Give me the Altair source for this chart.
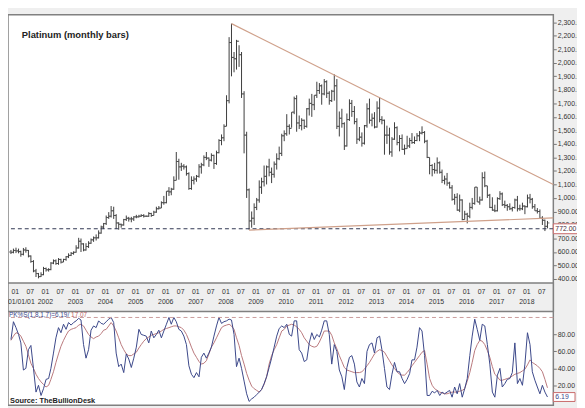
import altair as alt
import pandas as pd

# ---------------- data (monthly, Nov 2000 .. Sep 2018) ----------------
opens = [600, 598,
    612, 608, 603, 583, 615, 612, 570, 530, 460, 440, 418, 432,
    478, 468, 470, 518, 535, 515, 545, 525, 545, 565, 575, 590,
    598, 630, 680, 660, 615, 640, 665, 690, 705, 705, 740, 785,
    810, 855, 865, 905, 870, 815, 805, 800, 840, 850, 845, 845,
    860, 860, 865, 870, 865, 865, 885, 870, 895, 920, 925, 965,
    965, 1050, 1045, 1065, 1130, 1270, 1230, 1235, 1230, 1180, 1070, 1130,
    1140, 1160, 1230, 1245, 1300, 1295, 1280, 1315, 1255, 1335, 1425, 1445,
    1530, 1720, 2150, 2040, 2030, 2160, 2060, 1770, 1465, 1060, 830, 850,
    930, 985, 1080, 1120, 1160, 1230, 1190, 1175, 1250, 1290, 1330, 1460,
    1475, 1530, 1515, 1635, 1735, 1555, 1535, 1575, 1530, 1660, 1700, 1690,
    1760, 1795, 1830, 1770, 1860, 1775, 1720, 1790, 1830, 1530, 1590, 1550,
    1385, 1580, 1700, 1640, 1565, 1435, 1450, 1405, 1535, 1660, 1575, 1590,
    1525, 1665, 1580, 1575, 1465, 1465, 1340, 1435, 1520, 1410, 1440, 1360,
    1365, 1385, 1425, 1410, 1425, 1460, 1480, 1485, 1420, 1300, 1240, 1210,
    1205, 1260, 1190, 1130, 1140, 1110, 1075, 990, 1005, 910, 985, 840,
    880, 865, 930, 960, 1080, 970, 985, 1150, 1090, 1020, 930, 910,
    905, 995, 1030, 950, 945, 935, 920, 930, 985, 920, 920, 940,
    935, 1000, 990, 935, 905, 900, 850, 835, 790]
highs = [615, 625,
    632, 625, 610, 630, 635, 615, 575, 540, 475, 445, 450, 490,
    485, 480, 525, 545, 545, 555, 550, 550, 570, 590, 600, 605,
    650, 705, 700, 665, 665, 680, 700, 715, 730, 760, 795, 815,
    870, 895, 940, 935, 880, 820, 810, 845, 870, 860, 860, 865,
    875, 875, 880, 880, 870, 895, 890, 905, 935, 940, 975, 1015,
    1050, 1080, 1075, 1160, 1340, 1290, 1260, 1250, 1240, 1190, 1160, 1160,
    1170, 1250, 1260, 1315, 1340, 1300, 1330, 1320, 1350, 1435, 1470, 1545,
    1760, 2190, 2290, 2080, 2170, 2130, 2080, 1790, 1490, 1070, 900, 960,
    1000, 1130, 1150, 1240, 1240, 1290, 1225, 1270, 1330, 1380, 1475, 1500,
    1620, 1545, 1635, 1750, 1760, 1610, 1590, 1580, 1665, 1735, 1770, 1760,
    1860, 1850, 1840, 1880, 1870, 1790, 1800, 1915, 1880, 1640, 1660, 1560,
    1625, 1730, 1725, 1680, 1590, 1525, 1485, 1540, 1700, 1735, 1625, 1635,
    1715, 1745, 1605, 1580, 1535, 1520, 1450, 1560, 1530, 1465, 1470, 1395,
    1460, 1445, 1480, 1455, 1480, 1495, 1530, 1495, 1430, 1300, 1250, 1260,
    1300, 1270, 1210, 1165, 1185, 1120, 1095, 1030, 1035, 1025, 990, 905,
    890, 965, 1000, 1080, 1080, 1010, 1190, 1195, 1090, 1030, 1005, 950,
    1005, 1050, 1040, 980, 955, 960, 935, 995, 1015, 950, 965, 945,
    1025, 1030, 1000, 955, 925, 915, 865, 840, 830]
lows = [585, 590,
    592, 590, 565, 575, 595, 560, 520, 450, 415, 405, 415, 428,
    455, 455, 465, 510, 505, 505, 515, 525, 535, 555, 570, 580,
    595, 625, 600, 605, 610, 630, 660, 675, 685, 700, 735, 770,
    800, 845, 855, 845, 770, 765, 780, 795, 830, 825, 820, 830,
    850, 855, 860, 855, 860, 860, 860, 870, 890, 915, 925, 950,
    960, 1015, 1020, 1060, 1130, 1135, 1200, 1210, 1165, 1060, 1060, 1100,
    1120, 1150, 1180, 1235, 1280, 1230, 1270, 1215, 1245, 1330, 1390, 1420,
    1530, 1700, 1900, 1930, 1950, 1970, 1740, 1330, 1000, 765, 780, 800,
    910, 965, 1030, 1085, 1100, 1160, 1110, 1150, 1210, 1280, 1310, 1420,
    1460, 1470, 1520, 1620, 1490, 1510, 1500, 1510, 1520, 1610, 1600, 1650,
    1740, 1770, 1690, 1760, 1740, 1690, 1710, 1720, 1510, 1455, 1520, 1355,
    1380, 1570, 1600, 1545, 1400, 1420, 1380, 1395, 1520, 1550, 1530, 1515,
    1520, 1560, 1545, 1320, 1400, 1320, 1305, 1430, 1390, 1345, 1355, 1320,
    1365, 1370, 1400, 1400, 1420, 1420, 1470, 1405, 1295, 1175, 1160, 1180,
    1180, 1180, 1110, 1100, 1090, 1070, 980, 950, 905, 895, 835, 840,
    812, 850, 915, 950, 970, 950, 980, 1080, 1000, 925, 905, 895,
    900, 985, 940, 925, 905, 910, 900, 920, 900, 905, 910, 880,
    930, 960, 920, 905, 885, 850, 800, 755, 775]
closes = [598, 612,
    608, 603, 583, 615, 612, 570, 530, 460, 440, 418, 432, 478,
    468, 470, 518, 535, 515, 545, 525, 545, 565, 575, 590, 598,
    630, 680, 660, 615, 640, 665, 690, 705, 705, 740, 785, 810,
    855, 865, 905, 870, 815, 805, 800, 840, 850, 845, 845, 860,
    860, 865, 870, 865, 865, 885, 870, 895, 920, 925, 965, 965,
    1050, 1045, 1065, 1130, 1270, 1230, 1235, 1230, 1180, 1070, 1130, 1140,
    1160, 1230, 1245, 1300, 1295, 1280, 1315, 1255, 1335, 1425, 1445, 1530,
    1720, 2150, 2040, 2030, 2160, 2060, 1770, 1465, 1060, 830, 850, 930,
    985, 1080, 1120, 1160, 1230, 1190, 1175, 1250, 1290, 1330, 1460, 1475,
    1530, 1515, 1635, 1735, 1555, 1535, 1575, 1530, 1660, 1700, 1690, 1760,
    1795, 1830, 1770, 1860, 1775, 1720, 1790, 1830, 1530, 1590, 1550, 1385,
    1580, 1700, 1640, 1565, 1435, 1450, 1405, 1535, 1660, 1575, 1590, 1525,
    1665, 1580, 1575, 1465, 1465, 1340, 1435, 1520, 1410, 1440, 1360, 1365,
    1385, 1425, 1410, 1425, 1460, 1480, 1485, 1420, 1300, 1240, 1210, 1205,
    1260, 1190, 1130, 1140, 1110, 1075, 990, 1005, 910, 985, 840, 880,
    865, 930, 960, 1080, 970, 985, 1150, 1090, 1020, 930, 910, 905,
    995, 1030, 950, 945, 935, 920, 930, 985, 920, 920, 940, 935,
    1000, 990, 935, 905, 900, 850, 835, 790, 815]

stoch_k = [74, 95,
    88, 80, 70, 38, 40, 62, 67, 40, 12, 20, 8, 16,
    27, 28, 40, 58, 76, 88, 82, 92, 86, 94, 91, 94,
    96, 99, 97, 68, 52, 62, 85, 90, 88, 96, 93, 92,
    95, 98, 100, 94, 58, 42, 45, 35, 57, 51, 41, 52,
    65, 86, 80, 79, 78, 70, 84, 76, 80, 85, 76, 84,
    92, 100, 92, 100, 95, 86, 84, 78, 68, 43, 33, 29,
    35, 30, 53, 58, 52, 58, 65, 78, 90, 100, 93, 95,
    96, 98, 97, 80, 42, 52, 40, 25, 10, 1, 4, 6,
    9, 12, 15, 22, 30, 41, 52, 65, 78, 87, 90, 88,
    92, 80, 78, 96, 96, 62, 58, 48, 50, 70, 82, 74,
    80, 77, 85, 96, 96, 80, 45, 68, 60, 38, 30, 15,
    41, 53, 55, 45, 24, 18, 28, 22, 60, 68, 70, 58,
    76, 78, 62, 40, 18, 15, 33, 47, 36, 36, 28, 22,
    27, 34, 50, 50, 65, 88, 84, 55, 8, 8, 13, 11,
    14, 8, 12, 10, 12, 14, 6, 18, 10, 22, 6, 16,
    28, 55, 78, 98, 86, 73, 92, 90, 68, 45, 12, 6,
    32, 40, 18, 22, 27, 28, 35, 70, 22, 28, 20, 45,
    82, 68, 36, 26, 18, 10, 20, 12, 6.19]
stoch_d = [73, 78,
    82, 81, 78, 72, 66, 56, 46, 40, 33, 28, 24, 21,
    18, 20, 27, 36, 47, 57, 66, 73, 79, 84, 86, 87,
    88, 91, 92, 90, 85, 80, 77, 75, 77, 78, 81, 85,
    86, 90, 94, 90, 84, 76, 68, 62, 57, 55, 55, 57,
    59, 64, 68, 72, 75, 77, 79, 80, 81, 82, 84, 86,
    87, 88, 89, 90, 90, 89, 88, 85, 80, 73, 65, 58,
    53, 48, 45, 46, 49, 57, 65, 70, 76, 82, 88, 90,
    91, 92, 90, 86, 76, 67, 55, 45, 34, 26, 19, 16,
    14, 12, 15, 21, 30, 45, 55, 62, 68, 76, 84, 86,
    90, 91, 92, 91, 89, 86, 82, 76, 72, 68, 66, 65,
    66, 71, 77, 84, 84, 84, 79, 70, 63, 55, 48, 41,
    38, 37, 36, 35, 35, 35, 36, 39, 43, 47, 52, 57,
    60, 62, 61, 59, 54, 49, 44, 40, 36, 33, 32, 32,
    35, 39, 43, 47, 51, 55, 59, 61, 45, 28, 20, 16,
    14, 12, 11, 10, 10, 11, 12, 12, 12, 13, 14, 16,
    25, 35, 47, 61, 68, 73, 72, 68, 61, 53, 42, 33,
    30, 26, 26, 27, 28, 29, 31, 33, 34, 35, 37, 39,
    44, 50, 47, 45, 43, 40, 36, 27, 17.07]

trend_ids = ["upper", "upper", "lower", "lower"]
trend_dates = ["2008-03-15", "2018-11-25", "2008-10-15", "2018-11-25"]
trend_values = [2290, 1100, 762, 852]

price_ticks = list(range(400, 2301, 100))
stoch_ticks = [20, 40, 60, 80]
support_level = 772

# ---------------- tables ----------------
dates = (pd.date_range("2000-11-01", periods=len(closes), freq="MS")
         + pd.Timedelta(days=14)).strftime("%Y-%m-%d")
price = pd.DataFrame({"date": dates, "open": opens, "high": highs,
                      "low": lows, "close": closes})
stoch = pd.DataFrame({"date": dates, "k": stoch_k, "d": stoch_d})
trend = pd.DataFrame({"id": trend_ids, "date": trend_dates, "v": trend_values})

FONT = "Liberation Sans"
W, H = 553, 396          # whole plotting area (both panels)
UP_H = 272               # upper panel height
LOW_TOP, LOW_0, LOW_100 = 301, 393, 307   # lower panel pixel positions

x_start = alt.DateTime(year=2000, month=10, date=10, utc=True)
x_end = alt.DateTime(year=2018, month=11, date=25, utc=True)
x_scale = alt.Scale(type="utc", domain=[x_start, x_end])
tick_dates = [alt.DateTime(year=y, month=m, date=1, utc=True)
              for y in range(2001, 2019) for m in (1, 7)]

P_LO, P_HI = 371, 2356
P_GAP = P_LO - (LOW_TOP - UP_H) * (P_HI - P_LO) / UP_H   # price value at lower panel top
p_scale = alt.Scale(domain=[P_LO, P_HI], range=[UP_H, 0], nice=False, zero=False)
s_scale = alt.Scale(domain=[0, 100], range=[LOW_0, LOW_100], nice=False, zero=False)

x_axis = alt.Axis(values=tick_dates, labelExpr=(
    "utcmonth(datum.value) == 0 ? ['01', utcyear(datum.value) == 2001 ? '' : '' + utcyear(datum.value)]"
    " : ['07', '']"), labelFontSize=7, labelFont=FONT, labelColor="#333333",
    labelLineHeight=10, labelPadding=5, labelOverlap=False, labelBound=False,
    ticks=False, domain=False, grid=False, title=None,
    offset=-(H - UP_H), zindex=2, tickCount=len(tick_dates))

y_axis = alt.Axis(orient="right", values=price_ticks, format=",.2f",
                  labelFontSize=7, labelFont=FONT, labelColor="#333333",
                  tickSize=3, tickColor="#777777", domain=False,
                  labelPadding=1, labelOverlap=False, grid=False, title=None,
                  tickCount=len(price_ticks))
s_axis = alt.Axis(orient="right", values=stoch_ticks, format=".2f",
                  labelFontSize=7, labelFont=FONT, labelColor="#333333",
                  tickSize=3, tickColor="#777777", domain=False,
                  labelPadding=1, labelOverlap=False, grid=False, title=None)

BAR = "#3c3c3c"


def X(field):
    return alt.X(field, type="temporal", scale=x_scale, axis=x_axis)


def XD(dt):
    return alt.datum(dt, type="temporal", scale=x_scale, axis=x_axis)


def PY(field):
    return alt.Y(field, type="quantitative", scale=p_scale, axis=y_axis)


def PYD(v):
    return alt.datum(v, type="quantitative", scale=p_scale, axis=y_axis)


def SY(field):
    return alt.Y(field, type="quantitative", scale=s_scale, axis=s_axis)


def SYD(v):
    return alt.datum(v, type="quantitative", scale=s_scale, axis=s_axis)


# ---------------- upper (price) group ----------------
band = alt.Chart().mark_rect(fill="#efefef", stroke="#808080",
                             strokeWidth=1.5).encode(
    x=XD(x_start), x2=alt.datum(x_end), y=PYD(P_LO), y2=alt.datum(P_GAP))
hl = alt.Chart(price).mark_rule(color=BAR, strokeWidth=1).encode(
    x=X("date"), y=PY("low"), y2="high:Q")
op = alt.Chart(price).mark_tick(color=BAR, orient="horizontal", size=2,
                                thickness=1, xOffset=-1).encode(
    x=X("date"), y=PY("open"))
cl = alt.Chart(price).mark_tick(color=BAR, orient="horizontal", size=2,
                                thickness=1, xOffset=1).encode(
    x=X("date"), y=PY("close"))
support = alt.Chart().mark_rule(color="#2f3550", strokeDash=[4, 3],
                                strokeWidth=1).encode(y=PYD(support_level))
trend_l = alt.Chart(trend).mark_line(color="#cfa08a", strokeWidth=1.2).encode(
    x=X("date"), y=PY("v"), detail="id:N")
title_t = alt.Chart().mark_text(align="left", baseline="middle", fontSize=9.5,
                                fontWeight="bold", font=FONT, color="#222222",
                                dx=14, dy=21).encode(
    x=XD(x_start), y=PYD(P_HI), text=alt.value("Platinum (monthly bars)"))
first_lab = alt.Chart().mark_text(align="left", baseline="middle", fontSize=7,
                                  font=FONT, color="#333333", dx=-7, dy=19).encode(
    x=XD(alt.DateTime(year=2001, month=1, date=1, utc=True)),
    y=PYD(P_LO), text=alt.value("01/01/01"))
box772 = alt.Chart().mark_rect(fill="white", stroke="#c86a6a",
                               strokeWidth=1, x2Offset=26, yOffset=-5,
                               y2Offset=5).encode(
    x=XD(x_end), x2=alt.datum(x_end),
    y=PYD(support_level), y2=alt.datum(support_level))
txt772 = alt.Chart().mark_text(align="left", baseline="middle",
                               fontSize=7, font=FONT, color="#4a2a3a", dx=2).encode(
    x=XD(x_end), y=PYD(support_level), text=alt.value("772.00"))

upper = alt.layer(band, hl, op, cl, support, trend_l, title_t, first_lab,
                  box772, txt772)

# ---------------- lower (stochastic) group ----------------
d_line = alt.Chart(stoch).mark_line(color="#b9787c", strokeWidth=1).encode(
    x=X("date"), y=SY("d"))
k_line = alt.Chart(stoch).mark_line(color="#3a4688", strokeWidth=1).encode(
    x=X("date"), y=SY("k"))
top_rule = alt.Chart().mark_rule(color="#c99a9a", strokeDash=[4, 3],
                                 strokeWidth=1).encode(y=SYD(100))
pk1 = alt.Chart().mark_text(align="left", baseline="middle", fontSize=6.5,
                            font=FONT, color="#3a4688", dx=1, dy=-2).encode(
    x=XD(x_start), y=SYD(100), text=alt.value("PK%S(1,8,1,7)=6.19/"))
pk2 = alt.Chart().mark_text(align="left", baseline="middle", fontSize=6.5,
                            font=FONT, color="#b9605f", dx=64, dy=-2).encode(
    x=XD(x_start), y=SYD(100), text=alt.value("17.07"))
src = alt.Chart().mark_text(align="left", baseline="middle", fontSize=7.5,
                            fontWeight="bold", font=FONT, color="#222222",
                            dx=2, dy=-1).encode(
    x=XD(x_start), y=SYD(0), text=alt.value("Source: TheBullionDesk"))
box619 = alt.Chart().mark_rect(fill="white", stroke="#c86a6a",
                               strokeWidth=1, x2Offset=22, yOffset=-4.5,
                               y2Offset=4.5).encode(
    x=XD(x_end), x2=alt.datum(x_end),
    y=SYD(stoch_k[-1]), y2=alt.datum(stoch_k[-1]))
txt619 = alt.Chart().mark_text(align="left", baseline="middle",
                               fontSize=7, font=FONT, color="#3a4688", dx=2).encode(
    x=XD(x_end), y=SYD(stoch_k[-1]), text=alt.value("6.19"))

lower = alt.layer(d_line, k_line, top_rule, pk1, pk2, src, box619, txt619)

chart = alt.layer(upper, lower).resolve_scale(y="independent").properties(
    width=W, height=H,
    autosize=alt.AutoSizeParams(type="none"),
    padding={"left": 0, "top": 4, "right": 24, "bottom": 0},
    background="#efefef",
).configure_view(stroke="#808080", strokeWidth=1.5, fill="white"
).configure_axis(labelOverlap=False, labelBound=False)

chart.save("out.html", embed_options={"renderer": "svg", "actions": False})
